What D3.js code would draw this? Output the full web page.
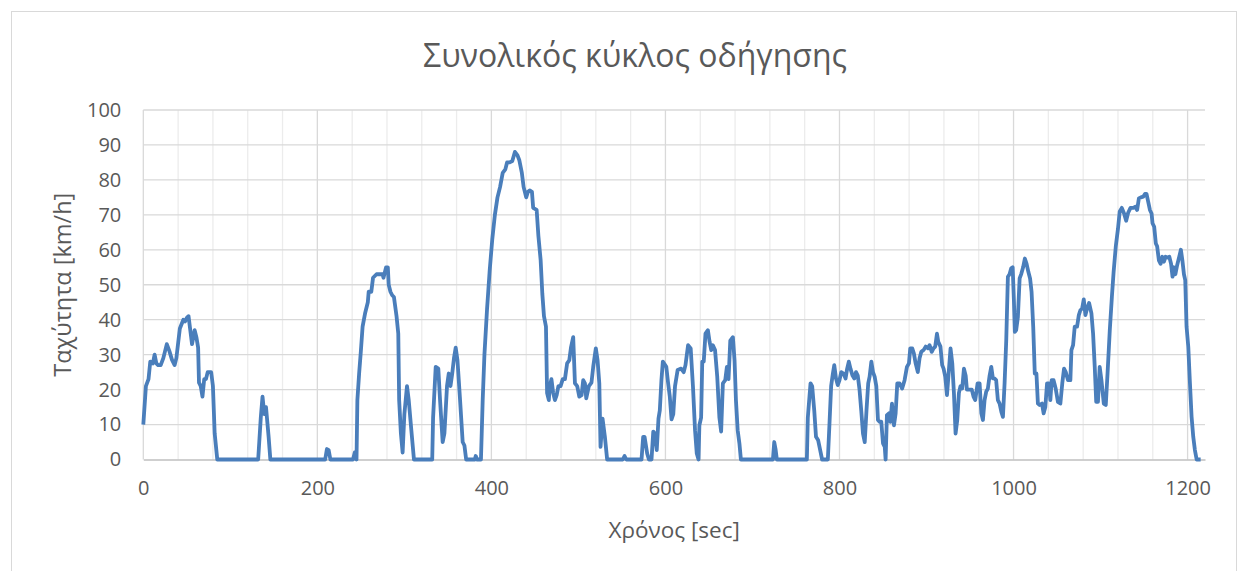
<!DOCTYPE html>
<html>
<head>
<meta charset="utf-8">
<script src="https://cdn.jsdelivr.net/npm/d3@7"></script>
<style>
body { margin: 0; background: #fff; }
text { font-family: "Open Sans", "Noto Sans", sans-serif; fill: #595959; }
</style>
</head>
<body>
<svg width="1248" height="571"></svg>
<script>
// driving cycle: time [sec] and speed [km/h]
var times = [0,3,6,8,11,13,15,17,20,23,27,30,33,36,38,42,46,48,50,52,54,56,59,61,63,64,66,68,70,72,74,78,80,82,85,
  132,135,137,139,141,144,146,
  209,211,213,215,241,243,245,246,248,250,252,255,258,259,262,264,266,268,273,275,276,279,281,282,284,286,288,291,293,294,296,298,300,303,305,308,311,
  332,333,336,339,341,344,346,349,351,353,355,357,359,361,364,367,369,371,381,382,383.5,388,390,392,395,398,401,404,407,410,413,416,418,421,424,427,430,432,435,437,440,442,444,446.6,448,452,454,456.6,458.5,460.4,462.7,464,466,467,469,471,473,475,477,479.5,482,484.5,487,489.5,491.4,494,496,498.6,501,503.6,505.5,507.5,509,512,515,517,520,522,524,525.4,527.7,530.4,533,
  551,553,555,572.5,574.4,576,579,581,584,586,588,590,592,593.5,595.4,597,601,603,605,607,609,611,614,618,621,623,626,629,631.6,634,636,638,639,641,642.3,644,646,648.8,650.7,652.6,654.5,657,659.5,662,664,666,668.7,670.6,672.5,674.5,677.5,679.4,681,683,685,686.7,
  723.5,725,726.5,728,762.5,763.6,766.7,768.6,771,773,775.5,777.8,780,786.6,788.5,790.4,792.4,794,796,798,800,802,804.6,807,808.8,810.7,812.6,815,817,819,821,823,825,827,829,831,833,834.6,836.6,838.5,840.4,842.3,844.2,846,848,850,852,853,854.5,856.8,858.4,860.3,861.4,862.6,864.5,866.4,869,872,874.8,877.5,879.8,881.3,883.6,885.5,887.5,890,892,894,896.6,899,901.6,903.5,906,908,910,912,913.5,916,918,919.6,921.5,923.5,925.7,927.6,929.6,931.5,933.4,935.3,937.2,939,941,943,945,946.4,949.5,952,954,956,958.7,961,963,964.8,966.7,968.6,970.5,972.5,974.4,976.3,978,980,982,984,986,987.8,989.7,991.6,993.5,995.4,997.3,999,1000.4,1001.5,1003,1005,1007,1009,1011,1013,1015,1017,1019,1020.7,1022.6,1024.4,1026.3,1028,1030,1032.7,1034.6,1036.5,1038.5,
  1040.8,1042.3,1043.8,1046,1048.4,1051,1053.8,1056,1058,1060,1062.6,1065.3,1066.5,1068.4,1070.3,1073,1075,1076.8,1078.8,1080.7,1082.6,1084.5,1086.8,1089.5,1091.4,1093.3,1095,1097,1099,1101,1103.7,1106,1108,1110.6,1113,1115,1117.5,1120,1122,1124.4,1127,1129.4,1131.7,1134.4,1137.5,1140,1142,1144,1146.3,1149,1151,1152.8,1154.7,1156.7,1158.6,1159.7,1161.6,1163.5,1165,1167,1169,1171,1172.8,1174.7,1177,1179,1181,1182.7,1184.3,1186,1188,1190.4,1192.3,1194,1195.8,1197.3,1198.8,1200.8,1202.7,1204.6,1206.5,1208.4,1210.4,1215];

var speeds = [10,21,23,28,27.5,30,27.5,27,27,29,33,31,28.5,27,29,37.5,40,39.5,40.5,41,37,33,37,35,32,22,21,18,23,23,25,25,21,7.5,0,
  0,12,18,13,15,6.5,0,
  0,3,2.7,0,0,2,0,17,24.6,31,38,42,45,48,48,52,52.5,53,53,53,52,55,55,50,48,47,46.5,41,36,17,7.5,2,13,21,17,8.4,0,
  0,12,26.5,26,17,5,7.5,21,24.6,21,24.6,29,32,28.4,17,5,4,0,0,1,0,0,17,30,43,54,63,70,75,78,82,83,85,85,85.4,88,87,85.7,82,78,75,76.6,77,76.6,72,71.4,64,57,47.5,41,38,19,17,21,23,19,17,18.4,21,21,23,23,27.5,28.4,32,35,21.8,21,18,18.4,22.7,21.8,17.5,21,22,26.5,31.8,28.4,21.8,3.6,11.7,6.5,0,
  0,1,0,0,6.5,6.5,1.7,0,0,8,7.4,2.7,11.7,14,22.7,28,26.5,22,18,11.5,13,21,25.6,26,25,27,32.7,31.8,21,8.4,1.7,0,9.8,12,28,28,36,37,33.7,31.3,32.7,31.3,23.7,12,8,21.8,22.7,26.5,23,34,35,28.4,17,8.4,4.6,0,
  0,5,3,0,0,12,21.8,21,14,6.5,5.5,2.7,0,0,10.3,21,24.6,27,23.2,21.3,22.7,25,24.6,23.2,26,28,26,24,23.2,25,24,20,14,7.4,5,14,21.8,23.7,28,25,23.7,21,11.3,10.8,10.8,4.6,3.6,0,12.7,13.2,10.8,16,12.2,9.8,13.2,21.8,21.8,20.3,22.7,26.5,27.5,31.8,31.8,30.3,27.5,25,29,30.8,31.3,32.3,31.8,32.7,30.8,31.8,32.3,36,33.7,32.3,27,26,23.7,18.4,25.6,31.8,27.5,19,7.4,11.3,19,21,20.3,26,24,20,20,20,18,17,21.8,21.8,13.2,11.3,17,19.4,20.3,24,26.5,23.2,23.2,22.7,17,16,13.6,12.2,21.8,34,52.3,53,54.7,55,45.6,36.5,37,40.8,51.8,53.2,55,57.5,56,53.7,51.8,48,38,24.6,24.6,16,15.6,16,13.2,15,21.8,
  21.8,17,22.7,22.7,20.3,16.5,16,21.8,26,25,22.7,22.7,31.3,32.7,38,38,41.3,42.7,43.2,45.8,41.3,43.2,44.8,41.8,36,26.5,16.5,16.5,26.5,22.7,16,15.6,24.6,37,46.5,53.7,61,66,71,72,70.4,68.3,70.6,72,72,72.3,71.4,74.7,75,75.2,76,76,73.8,71.4,70.4,67.6,66.6,61.8,61,57,56,58,56.6,58,57.8,58,56,52.3,55,53,55.6,58,60,57,53,51.3,38,32.2,21.8,12.2,6.5,2.7,0,0];

var xTicks = [0, 200, 400, 600, 800, 1000, 1200];
var yTicks = [0, 10, 20, 30, 40, 50, 60, 70, 80, 90, 100];
var xMinor = d3.range(0, 1201, 40);

var title = "Συνολικός κύκλος οδήγησης",
    xLabel = "Χρόνος [sec]",
    yLabel = "Ταχύτητα [km/h]";

var data = times.map(function (t, i) { return {time: t, speed: speeds[i]}; });

var svg = d3.select("svg"),
    margin = {top: 110, right: 43, bottom: 111.5, left: 143.3},
    width = +svg.attr("width") - margin.left - margin.right,
    height = +svg.attr("height") - margin.top - margin.bottom;

// chart border
svg.append("rect")
    .attr("x", 11.5).attr("y", 11.5)
    .attr("width", 1225).attr("height", 575)
    .attr("fill", "none")
    .attr("stroke", "#d9d9d9");

var x = d3.scaleLinear().domain([0, 1220]).range([0, width]),
    y = d3.scaleLinear().domain([0, 100]).range([height, 0]);

var g = svg.append("g")
    .attr("transform", "translate(" + margin.left + "," + margin.top + ")");

// minor vertical gridlines
g.append("g").selectAll("line")
    .data(xMinor.filter(function (d) { return d % 200 !== 0; }))
    .enter().append("line")
    .attr("x1", function (d) { return x(d); }).attr("x2", function (d) { return x(d); })
    .attr("y1", 0).attr("y2", height)
    .attr("stroke", "#ececec").attr("stroke-width", 1.3);

// major vertical gridlines
g.append("g").selectAll("line")
    .data(xTicks)
    .enter().append("line")
    .attr("x1", function (d) { return x(d); }).attr("x2", function (d) { return x(d); })
    .attr("y1", 0).attr("y2", height)
    .attr("stroke", "#d9d9d9").attr("stroke-width", 1.3);

// horizontal gridlines
g.append("g").selectAll("line")
    .data(yTicks.slice(1))
    .enter().append("line")
    .attr("x1", 0).attr("x2", width)
    .attr("y1", function (d) { return y(d); }).attr("y2", function (d) { return y(d); })
    .attr("stroke", "#d9d9d9").attr("stroke-width", 1.3);

// axes
var xAxis = d3.axisBottom(x).tickValues(xTicks).tickFormat(d3.format("d")).tickSize(0).tickPadding(21),
    yAxis = d3.axisLeft(y).tickValues(yTicks).tickSize(0).tickPadding(22);

var gx = g.append("g")
    .attr("transform", "translate(0," + height + ")")
    .call(xAxis);
gx.select(".domain").attr("stroke", "#bfbfbf").attr("stroke-width", 1.5);
gx.selectAll("text").style("font-size", "20px").attr("fill", "#595959");

var gy = g.append("g").call(yAxis);
gy.select(".domain").remove();
gy.selectAll("text").style("font-size", "20px").attr("fill", "#595959");

// speed line
var line = d3.line()
    .x(function (d) { return x(d.time); })
    .y(function (d) { return y(d.speed); });

g.append("path")
    .datum(data)
    .attr("fill", "none")
    .attr("stroke", "#4a7ebb")
    .attr("stroke-width", 3.8)
    .attr("stroke-linejoin", "round")
    .attr("d", line);

// titles
svg.append("text")
    .attr("x", 635).attr("y", 67)
    .attr("text-anchor", "middle")
    .style("font-size", "32px")
    .text(title);

svg.append("text")
    .attr("x", margin.left + width / 2).attr("y", 538)
    .attr("text-anchor", "middle")
    .style("font-size", "22.5px")
    .text(xLabel);

svg.append("text")
    .attr("transform", "translate(71," + (margin.top + height / 2) + ") rotate(-90)")
    .attr("text-anchor", "middle")
    .style("font-size", "23.5px")
    .text(yLabel);
</script>
</body>
</html>
